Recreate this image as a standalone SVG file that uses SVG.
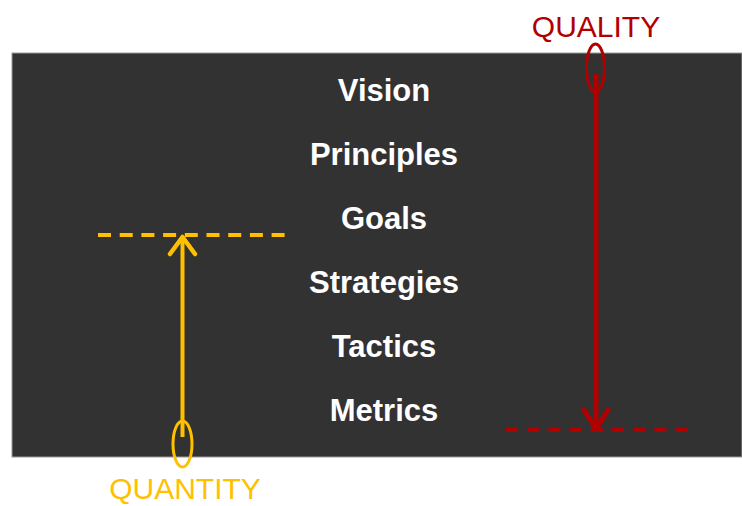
<svg xmlns="http://www.w3.org/2000/svg" width="742" height="506" viewBox="0 0 742 506">
<style>
.lvl{font-family:"Liberation Sans",Arial,sans-serif;font-weight:bold;font-size:31px;fill:#ffffff;text-anchor:middle}
.lab{font-family:"Liberation Sans",Arial,sans-serif;font-size:30px;text-anchor:middle}
</style>
<rect x="0" y="0" width="742" height="506" fill="#ffffff"/>
<rect id="panel" x="12" y="53" width="730" height="404" fill="#323232" stroke="#9a9a9a" stroke-width="1"/>
<g id="levels">
<g id="vision"><text class="lvl" x="384" y="101">Vision</text></g>
<g id="principles"><text class="lvl" x="384" y="165">Principles</text></g>
<g id="goals"><text class="lvl" x="384" y="229">Goals</text></g>
<g id="strategies"><text class="lvl" x="384" y="293">Strategies</text></g>
<g id="tactics"><text class="lvl" x="384" y="357">Tactics</text></g>
<g id="metrics"><text class="lvl" x="384" y="421">Metrics</text></g>
</g>
<g id="quality">
<text class="lab" x="596" y="37" fill="#b00000">QUALITY</text>
<ellipse cx="595.5" cy="68" rx="9" ry="24" fill="none" stroke="#b00000" stroke-width="3"/>
</g>
<g id="quantity">
<text class="lab" x="185" y="499" fill="#ffc000">QUANTITY</text>
<ellipse cx="182.5" cy="444" rx="9.5" ry="23" fill="none" stroke="#ffc000" stroke-width="3"/>
</g>
<g id="connectors">
<line x1="506" y1="430" x2="695" y2="430" stroke="#b00000" stroke-width="4" stroke-dasharray="12 9.2"/>
<line x1="596" y1="74" x2="596" y2="429" stroke="#b00000" stroke-width="5"/>
<polyline points="584,410 596,429 608,410" fill="none" stroke="#b00000" stroke-width="5" stroke-linecap="round" stroke-linejoin="round"/>
<line x1="98" y1="235" x2="288" y2="235" stroke="#ffc000" stroke-width="4" stroke-dasharray="13 8.7"/>
<line x1="182.5" y1="237" x2="182.5" y2="437" stroke="#ffc000" stroke-width="4"/>
<polyline points="170,254 182.5,237 195,254" fill="none" stroke="#ffc000" stroke-width="4.5" stroke-linecap="round" stroke-linejoin="round"/>
</g>
</svg>
